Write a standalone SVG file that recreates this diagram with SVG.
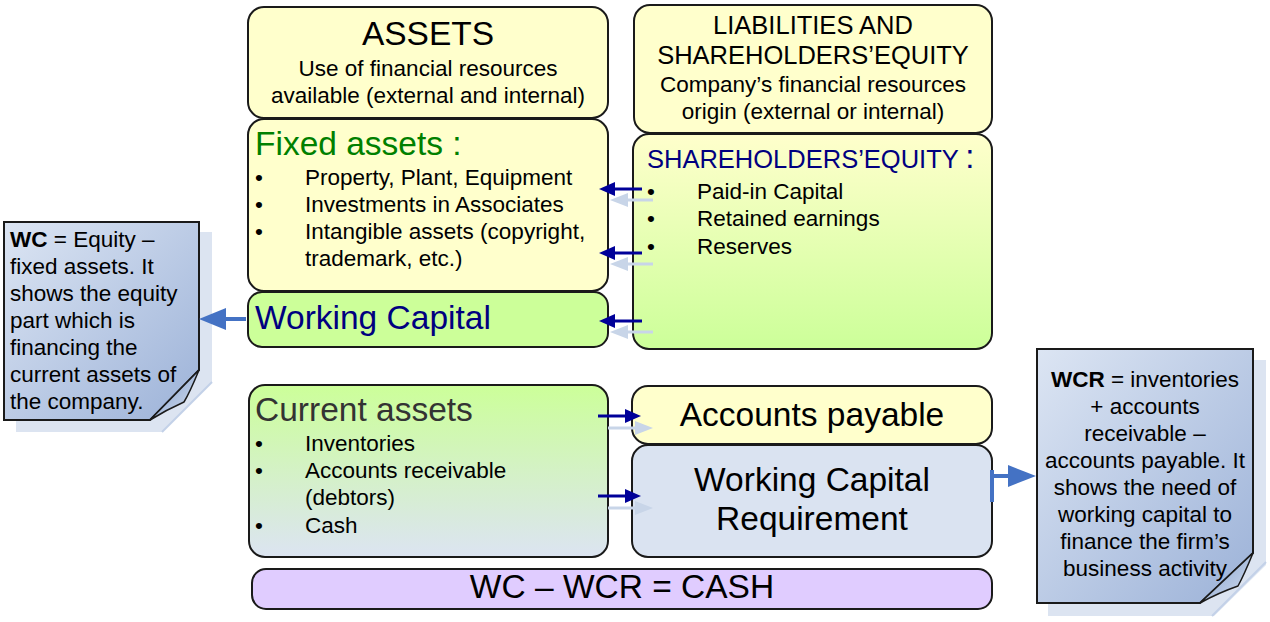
<svg xmlns="http://www.w3.org/2000/svg" width="1270" height="622" viewBox="0 0 1270 622">
<defs>
<linearGradient id="gYG" x1="0" y1="0" x2="0" y2="1"><stop offset="0" stop-color="#FFFFCC"/><stop offset="1" stop-color="#CCFF99"/></linearGradient>
<linearGradient id="gGB" x1="0" y1="0" x2="0" y2="1"><stop offset="0" stop-color="#CCFF99"/><stop offset="1" stop-color="#DCE4F2"/></linearGradient>
<linearGradient id="gNote" x1="0" y1="0" x2="1" y2="1"><stop offset="0" stop-color="#DCE5F3"/><stop offset="1" stop-color="#9CB2D8"/></linearGradient>
<linearGradient id="gFold" x1="0" y1="0" x2="1" y2="1"><stop offset="0" stop-color="#7F9CCB"/><stop offset="1" stop-color="#D6E0F0"/></linearGradient>
<style>
text{font-family:"Liberation Sans",Arial,sans-serif;fill:#000}
.box{stroke:#1a1a1a;stroke-width:2}
.yel{fill:#FFFFCC}
.t22{font-size:22.5px}
.t25{font-size:25.5px}
.t33{font-size:33.5px}
.mid{text-anchor:middle}
.navy{fill:#000080}
.green{fill:#008000}
.gray{fill:#333333}
.note{fill:url(#gNote);stroke:#1a1a1a;stroke-width:2}
.shadow{fill:#DCE4F1}
.shline{stroke:#C3D1E8;stroke-width:2}
.arr{stroke:#000099;stroke-width:3;fill:none}
.arrh{fill:#000099}
.ash{stroke:#C8D5E8;stroke-width:3;fill:none}
.ashh{fill:#C8D5E8}
.big{stroke:#4472C4;stroke-width:4;fill:none}
.bigh{fill:#4472C4}
</style>
</defs>
<rect width="1270" height="622" fill="#FFFFFF"/>

<g id="note-wc">
<path class="shadow" d="M16,232 H212 V382 L162,432 H16 Z"/>
<line class="shline" x1="162" y1="432" x2="212" y2="382"/>
<path class="note" d="M4,222 H199 V370 L150,420 H4 Z"/>
<path d="M150,420 L199,370 Q190,392 184,402 Q166,410 150,420 Z" fill="url(#gFold)" stroke="#1a1a1a" stroke-width="1.5"/>
<text class="t22" x="10" y="247"><tspan font-weight="bold">WC</tspan> = Equity –</text>
<text class="t22" x="10" y="274">fixed assets. It</text>
<text class="t22" x="10" y="301">shows the equity</text>
<text class="t22" x="10" y="328">part which is</text>
<text class="t22" x="10" y="355">financing the</text>
<text class="t22" x="10" y="382">current assets of</text>
<text class="t22" x="10" y="409">the company.</text>
</g>

<g id="assets-header">
<rect class="box yel" x="248" y="7" width="360" height="111" rx="16"/>
<text class="t33 mid" x="428" y="45">ASSETS</text>
<text class="t22 mid" x="428" y="76">Use of financial resources</text>
<text class="t22 mid" x="428" y="103">available (external and internal)</text>
</g>

<g id="fixed-assets">
<rect class="box yel" x="248" y="119" width="360" height="172" rx="16"/>
<text class="t33 green" x="255" y="155">Fixed assets :</text>
<text class="t22" x="255" y="185">•</text><text class="t22" x="305" y="185">Property, Plant, Equipment</text>
<text class="t22" x="255" y="212">•</text><text class="t22" x="305" y="212">Investments in Associates</text>
<text class="t22" x="255" y="239">•</text><text class="t22" x="305" y="239">Intangible assets (copyright,</text>
<text class="t22" x="305" y="266">trademark, etc.)</text>
</g>

<g id="working-capital">
<rect class="box" x="248" y="292" width="360" height="55" rx="14" fill="#CCFF99"/>
<text class="t33 navy" x="255" y="329">Working Capital</text>
</g>

<g id="liabilities-header">
<rect class="box yel" x="634" y="5" width="358" height="128" rx="16"/>
<text class="t25 mid" x="813" y="34">LIABILITIES AND</text>
<text class="t25 mid" x="813" y="64">SHAREHOLDERS’EQUITY</text>
<text class="t22 mid" x="813" y="92">Company’s financial resources</text>
<text class="t22 mid" x="813" y="119">origin (external or internal)</text>
</g>

<g id="shareholders-equity">
<rect class="box" x="633" y="134" width="359" height="215" rx="16" fill="url(#gYG)"/>
<text class="t25 navy" x="647" y="168">SHAREHOLDERS’EQUITY <tspan font-size="33px">:</tspan></text>
<text class="t22" x="647" y="199">•</text><text class="t22" x="697" y="199">Paid-in Capital</text>
<text class="t22" x="647" y="226">•</text><text class="t22" x="697" y="226">Retained earnings</text>
<text class="t22" x="647" y="254">•</text><text class="t22" x="697" y="254">Reserves</text>
</g>

<g id="current-assets">
<rect class="box" x="249" y="385" width="359" height="172" rx="16" fill="url(#gGB)"/>
<text class="t33 gray" x="255" y="421">Current assets</text>
<text class="t22" x="255" y="451">•</text><text class="t22" x="305" y="451">Inventories</text>
<text class="t22" x="255" y="478">•</text><text class="t22" x="305" y="478">Accounts receivable</text>
<text class="t22" x="305" y="505">(debtors)</text>
<text class="t22" x="255" y="533">•</text><text class="t22" x="305" y="533">Cash</text>
</g>

<g id="accounts-payable">
<rect class="box yel" x="632" y="386" width="360" height="58" rx="16"/>
<text class="t33 mid" x="812" y="426">Accounts payable</text>
</g>

<g id="wcr">
<rect class="box" x="632" y="445" width="360" height="112" rx="16" fill="#DAE3F1"/>
<text class="t33 mid" x="812" y="491">Working Capital</text>
<text class="t33 mid" x="812" y="530">Requirement</text>
</g>

<g id="cash">
<rect class="box" x="252" y="569" width="740" height="40" rx="14" fill="#E0CCFF"/>
<text class="t33 mid" x="622" y="598">WC – WCR = CASH</text>
</g>

<g id="note-wcr">
<path class="shadow" d="M1048,360 H1266 V565 L1214,616 H1048 Z"/>
<line class="shline" x1="1212" y1="616" x2="1266" y2="562"/>
<path class="note" d="M1037,349 H1253 V553 L1200,603 H1037 Z"/>
<path d="M1200,603 L1253,553 Q1244,575 1238,586 Q1218,593 1200,603 Z" fill="url(#gFold)" stroke="#1a1a1a" stroke-width="1.5"/>
<text class="t22 mid" x="1145" y="387"><tspan font-weight="bold">WCR</tspan> = inventories</text>
<text class="t22 mid" x="1145" y="414">+ accounts</text>
<text class="t22 mid" x="1145" y="441">receivable –</text>
<text class="t22 mid" x="1145" y="468">accounts payable. It</text>
<text class="t22 mid" x="1145" y="495">shows the need of</text>
<text class="t22 mid" x="1145" y="522">working capital to</text>
<text class="t22 mid" x="1145" y="549">finance the firm’s</text>
<text class="t22 mid" x="1145" y="576">business activity</text>
</g>

<g id="connectors">
<line class="ash" x1="625" y1="200" x2="653" y2="200"/><polygon class="ashh" points="610,200 628,193 628,207"/>
<line class="ash" x1="625" y1="264" x2="653" y2="264"/><polygon class="ashh" points="610,264 628,257 628,271"/>
<line class="ash" x1="625" y1="332" x2="653" y2="332"/><polygon class="ashh" points="610,332 628,325 628,339"/>
<line class="ash" x1="608" y1="428" x2="636" y2="428"/><polygon class="ashh" points="653,428 635,421 635,435"/>
<line class="ash" x1="608" y1="508" x2="636" y2="508"/><polygon class="ashh" points="653,508 635,501 635,515"/>
<line class="arr" x1="613" y1="189" x2="642" y2="189"/><polygon class="arrh" points="599,189 615,182 615,196"/>
<line class="arr" x1="613" y1="253" x2="642" y2="253"/><polygon class="arrh" points="599,253 615,246 615,260"/>
<line class="arr" x1="613" y1="321" x2="642" y2="321"/><polygon class="arrh" points="599,321 615,314 615,328"/>
<line class="arr" x1="598" y1="416" x2="626" y2="416"/><polygon class="arrh" points="641,416 625,409 625,423"/>
<line class="arr" x1="598" y1="496" x2="626" y2="496"/><polygon class="arrh" points="641,496 625,489 625,503"/>
<line class="big" x1="246" y1="319" x2="224" y2="319"/><polygon class="bigh" points="199,319 226,308 226,330"/>
<path class="big" d="M992,470 V502 M992,476 H1010" stroke-width="3"/><polygon class="bigh" points="1036,476 1008,465 1008,487"/>
</g>
</svg>
